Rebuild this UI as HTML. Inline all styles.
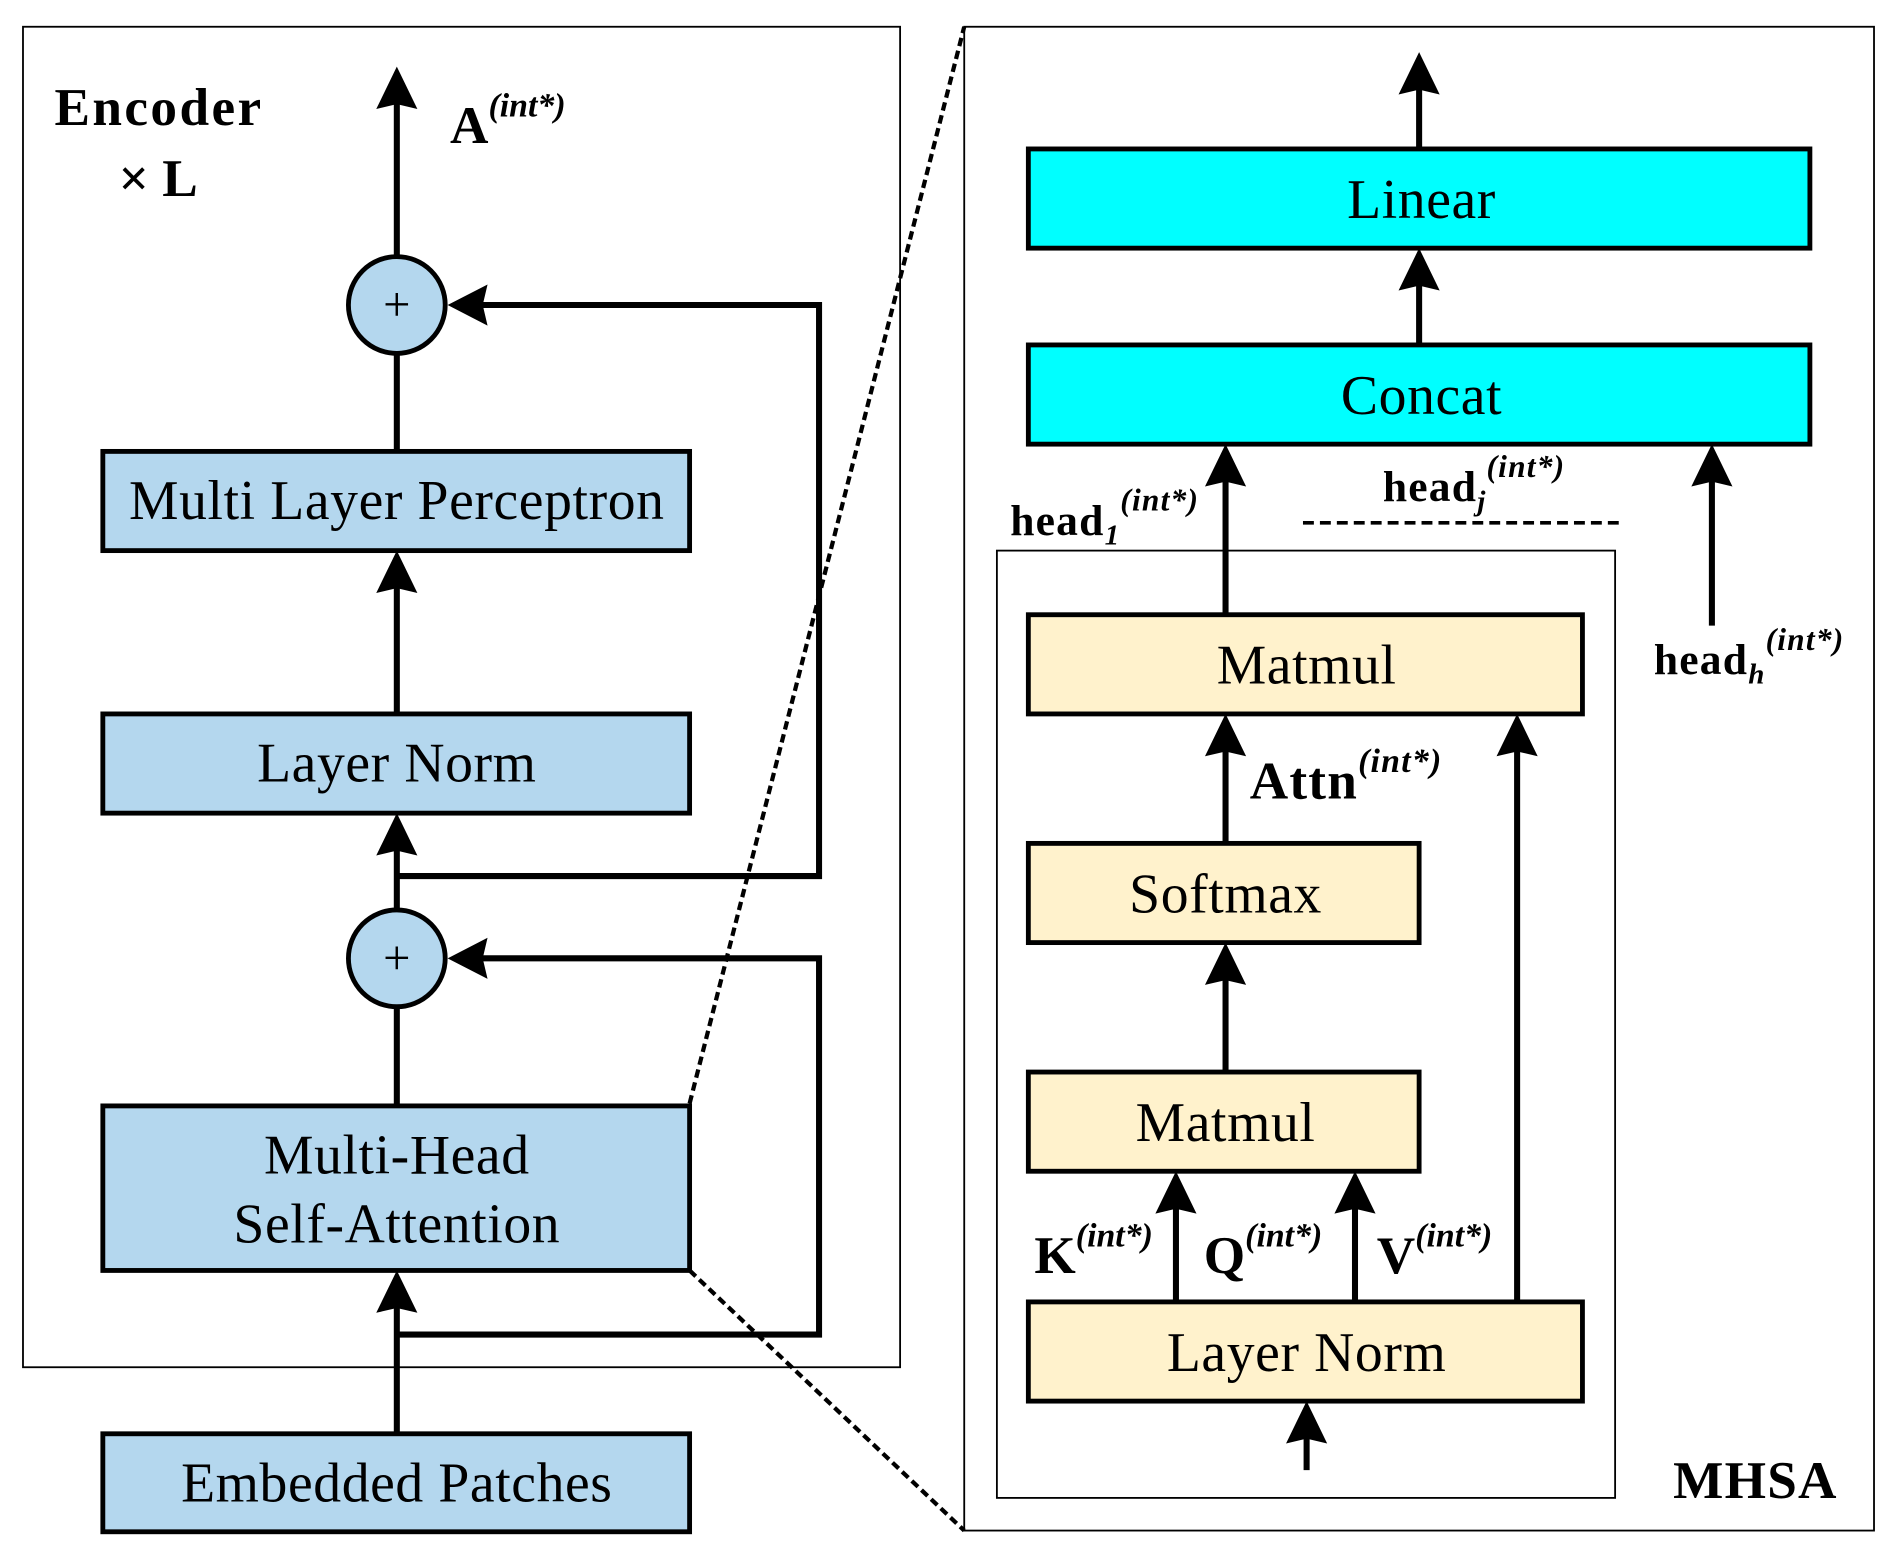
<!DOCTYPE html>
<html><head><meta charset="utf-8"><style>
html,body{margin:0;padding:0;background:#fff}
svg{display:block}
text{font-family:"Liberation Serif",serif;fill:#000}
</style></head><body>
<svg width="1897" height="1567" viewBox="0 0 1568 1295" xmlns="http://www.w3.org/2000/svg">
<g fill="none" stroke="#000">
<rect x="19" y="22" width="725" height="1108" stroke-width="1.5"/>
<rect x="797" y="22" width="752" height="1243" stroke-width="1.5"/>
<rect x="824" y="455" width="511" height="783" stroke-width="1.5"/>
<line x1="570" y1="912" x2="797" y2="22" stroke-width="3.5" stroke-dasharray="7,4"/>
<line x1="570" y1="1050" x2="797" y2="1265" stroke-width="3.5" stroke-dasharray="7,4"/>
<line x1="1077" y1="432" x2="1342" y2="432" stroke-width="3" stroke-dasharray="9,5"/>
</g>
<g stroke="#000" stroke-width="5" fill="none">
<line x1="328" y1="212" x2="328" y2="80"/>
<line x1="328" y1="292" x2="328" y2="373"/>
<line x1="328" y1="590" x2="328" y2="480"/>
<line x1="328" y1="752" x2="328" y2="698"/>
<polyline points="328,724 677,724 677,252 395,252"/>
<line x1="328" y1="832" x2="328" y2="914"/>
<polyline points="328,1103 677,1103 677,792 395,792"/>
<line x1="328" y1="1185" x2="328" y2="1076"/>
<line x1="1173" y1="123" x2="1173" y2="70"/>
<line x1="1173" y1="285" x2="1173" y2="232"/>
<line x1="1013" y1="508" x2="1013" y2="394"/>
<line x1="1415" y1="517" x2="1415" y2="394"/>
<line x1="1013" y1="697" x2="1013" y2="617"/>
<line x1="1013" y1="886" x2="1013" y2="806"/>
<line x1="972" y1="1076" x2="972" y2="995"/>
<line x1="1120" y1="1076" x2="1120" y2="995"/>
<line x1="1254" y1="1076" x2="1254" y2="617"/>
<line x1="1080" y1="1215" x2="1080" y2="1185"/>
</g>
<g fill="#000">
<polygon points="328,55 311,90 328,86 345,90"/>
<polygon points="328,455 311,490 328,486 345,490"/>
<polygon points="328,672 311,707 328,703 345,707"/>
<polygon points="328,1050 311,1085 328,1081 345,1085"/>
<polygon points="370,252 403,235 399,252 403,269"/>
<polygon points="370,792 403,775 399,792 403,809"/>
<polygon points="1173,43 1156,78 1173,74 1190,78"/>
<polygon points="1173,205 1156,240 1173,236 1190,240"/>
<polygon points="1013,367 996,402 1013,398 1030,402"/>
<polygon points="1415,367 1398,402 1415,398 1432,402"/>
<polygon points="1013,590 996,625 1013,621 1030,625"/>
<polygon points="1254,590 1237,625 1254,621 1271,625"/>
<polygon points="1013,779 996,814 1013,810 1030,814"/>
<polygon points="972,968 955,1003 972,999 989,1003"/>
<polygon points="1120,968 1103,1003 1120,999 1137,1003"/>
<polygon points="1080,1158 1063,1193 1080,1189 1097,1193"/>
</g>
<g stroke="#000" stroke-width="4">
<circle cx="328" cy="252" r="40" fill="#b4d7ee"/>
<circle cx="328" cy="792" r="40" fill="#b4d7ee"/>
<rect x="85" y="373" width="485" height="82" fill="#b4d7ee"/>
<rect x="85" y="590" width="485" height="82" fill="#b4d7ee"/>
<rect x="85" y="914" width="485" height="136" fill="#b4d7ee"/>
<rect x="85" y="1185" width="485" height="81" fill="#b4d7ee"/>
<rect x="850" y="123" width="646" height="82" fill="#00ffff"/>
<rect x="850" y="285" width="646" height="82" fill="#00ffff"/>
<rect x="850" y="508" width="458" height="82" fill="#fff2cc"/>
<rect x="850" y="697" width="323" height="82" fill="#fff2cc"/>
<rect x="850" y="886" width="323" height="82" fill="#fff2cc"/>
<rect x="850" y="1076" width="458" height="82" fill="#fff2cc"/>
</g>
<g font-size="40"><text x="328" y="265" text-anchor="middle">+</text><text x="328" y="805" text-anchor="middle">+</text></g>
<g font-size="46" text-anchor="middle" letter-spacing="0.5">
<text x="328" y="429">Multi Layer Perceptron</text>
<text x="328" y="646">Layer Norm</text>
<text x="328" y="970">Multi-Head</text>
<text x="328" y="1027">Self-Attention</text>
<text x="328" y="1241">Embedded Patches</text>
<text x="1175" y="180">Linear</text>
<text x="1175" y="342">Concat</text>
<text x="1080" y="565">Matmul</text>
<text x="1013" y="754">Softmax</text>
<text x="1013" y="943">Matmul</text>
<text x="1080" y="1133">Layer Norm</text>
</g>
<g font-weight="bold">
<text x="45" y="103" font-size="44" letter-spacing="2">Encoder</text>
<text x="98" y="162" font-size="44">× L</text>
<text x="372" y="118" font-size="44">A<tspan font-size="28" font-style="italic" dy="-22">(int*)</tspan></text>
<text x="835" y="442" font-size="36" letter-spacing="1">head<tspan font-size="24" font-style="italic" dy="8">1</tspan><tspan font-size="26" font-style="italic" dy="-28">(int*)</tspan></text>
<text x="1143" y="414" font-size="36" letter-spacing="1">head<tspan font-size="24" font-style="italic" dy="8">j</tspan><tspan font-size="26" font-style="italic" dy="-28">(int*)</tspan></text>
<text x="1367" y="557" font-size="36" letter-spacing="1">head<tspan font-size="24" font-style="italic" dy="8">h</tspan><tspan font-size="26" font-style="italic" dy="-28">(int*)</tspan></text>
<text x="1033" y="660" font-size="44" letter-spacing="1">Attn<tspan font-size="28" font-style="italic" dy="-22">(int*)</tspan></text>
<text x="855" y="1052" font-size="44">K<tspan font-size="28" font-style="italic" dy="-22">(int*)</tspan></text>
<text x="995" y="1052" font-size="44">Q<tspan font-size="28" font-style="italic" dy="-22">(int*)</tspan></text>
<text x="1138" y="1052" font-size="44">V<tspan font-size="28" font-style="italic" dy="-22">(int*)</tspan></text>
<text x="1383" y="1238" font-size="44" letter-spacing="1">MHSA</text>
</g>
</svg>
</body></html>
